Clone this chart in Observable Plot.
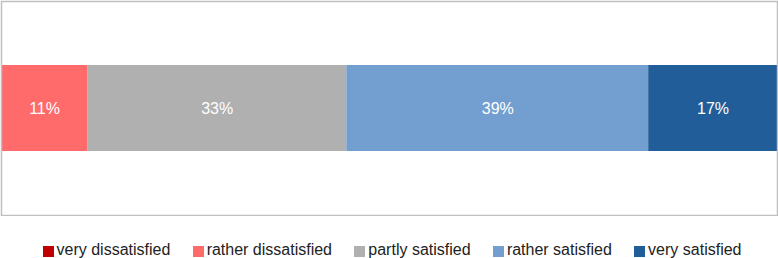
<!DOCTYPE html>
<html>
<head>
<meta charset="utf-8">
<script src="https://cdn.jsdelivr.net/npm/d3@7"></script>
<script src="https://cdn.jsdelivr.net/npm/@observablehq/plot@0.6"></script>
<style>
  html, body { margin: 0; padding: 0; background: #fff; }
  body { width: 778px; font-family: "Liberation Sans", Arial, sans-serif; }
  #legend {
    display: flex; justify-content: center; align-items: center;
    margin-top: 25px; font-size: 16px; color: #222; line-height: 18px;
    padding-left: 6px;
  }
  .item { display: flex; align-items: center; margin-right: 22.3px; }
  .item:last-child { margin-right: 0; }
  .sw { width: 11px; height: 11px; margin-right: 3px; margin-top: 2px; }
</style>
</head>
<body>
<div id="chart"></div>
<div id="legend"></div>
<script>
const categories = ["very dissatisfied", "rather dissatisfied", "partly satisfied", "rather satisfied", "very satisfied"];
const shares = [0, 11.1, 33.4, 38.9, 16.6];
const labels = ["", "11%", "33%", "39%", "17%"];
const colors = ["#c00000", "#ff6b6b", "#b0b0b0", "#729fd0", "#215e99"];
const row = "all";

const data = categories.map((c, i) => ({ row, category: c, value: shares[i], label: labels[i] }));

const chart = Plot.plot({
  width: 778,
  height: 216,
  marginLeft: 1,
  marginRight: 1,
  marginTop: 1,
  marginBottom: 1,
  x: { domain: [0, 100], axis: null },
  y: { domain: [row], axis: null, padding: 0.4266 },
  color: { domain: categories, range: colors },
  style: { fontFamily: "Liberation Sans, Arial, sans-serif", background: "#fff" },
  marks: [
    Plot.barX(data, Plot.stackX({ x: "value", y: "row", fill: "category", order: categories })),
    Plot.text(data.filter(d => d.value > 0), Plot.stackX({
      x: "value", y: "row", z: "category", text: "label", order: categories,
      fill: "white", fontSize: 16
    })),
    Plot.frame({ stroke: "#bfbfbf", strokeWidth: 1.5 })
  ]
});
document.getElementById("chart").appendChild(chart);

const legend = document.getElementById("legend");
categories.forEach((c, i) => {
  const item = document.createElement("div");
  item.className = "item";
  const sw = document.createElement("span");
  sw.className = "sw";
  sw.style.background = colors[i];
  const t = document.createElement("span");
  t.textContent = c;
  item.appendChild(sw);
  item.appendChild(t);
  legend.appendChild(item);
});
</script>
</body>
</html>
